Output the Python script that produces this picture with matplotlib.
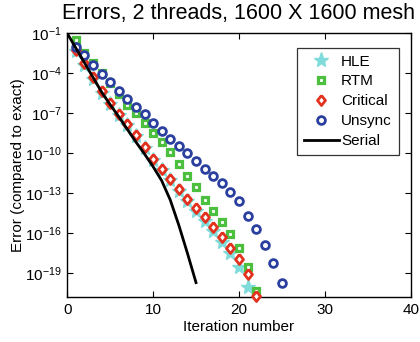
import numpy as np
import matplotlib
matplotlib.use("Agg")
import matplotlib.pyplot as plt

plt.rcParams['font.family'] = ['Liberation Sans', 'DejaVu Sans']
plt.rcParams['mathtext.fontset'] = 'custom'
plt.rcParams['mathtext.rm'] = 'Liberation Sans'
plt.rcParams['mathtext.default'] = 'regular'

# log10 of the error against the exact solution, per iteration
hle_iter = list(range(1, 22))
hle_log_err = [-2.3, -3.35, -4.4, -5.45, -6.3, -7.1, -7.9, -8.7, -9.6, -10.5,
               -11.25, -12.0, -12.8, -13.55, -14.3, -15.05, -15.8, -16.65,
               -17.5, -18.5, -20.0]

rtm_iter = list(range(1, 23))
rtm_log_err = [-1.5, -2.5, -3.2, -4.0, -4.75, -5.55, -6.35, -7.0, -7.75, -8.45,
               -9.18, -9.88, -10.8, -11.7, -12.55, -13.5, -14.33, -15.18,
               -16.08, -17.08, -18.5, -20.3]

critical_iter = list(range(1, 23))
critical_log_err = [-2.25, -3.25, -4.3, -5.35, -6.2, -7.03, -7.83, -8.63, -9.55,
                    -10.4, -11.15, -11.9, -12.7, -13.4, -14.1, -14.8, -15.5,
                    -16.3, -17.1, -17.95, -19.05, -20.7]

unsync_iter = list(range(1, 26))
unsync_log_err = [-2.0, -2.63, -3.38, -4.03, -4.68, -5.3, -5.93, -6.55, -7.08,
                  -7.7, -8.3, -8.9, -9.43, -9.96, -10.56, -11.16, -11.73,
                  -12.25, -12.9, -13.6, -14.7, -15.7, -16.9, -18.2, -19.75]

serial_iter = list(range(0, 16))
serial_log_err = [-1.0, -2.1, -3.2, -4.3, -5.4, -6.35, -7.25, -8.2, -9.15,
                  -10.05, -11.0, -12.05, -13.5, -15.4, -17.5, -19.7]

x_ticks = [0, 10, 20, 30, 40]
y_tick_exps = [-1, -4, -7, -10, -13, -16, -19]

# slightly tall diamond
tall_diamond = [(0, 1), (0.8, 0), (0, -1), (-0.8, 0), (0, 1)]

fig = plt.figure(figsize=(4.2, 3.42), dpi=100)
ax = fig.add_axes([0.160, 0.1307, 0.818, 0.772])

def err(v):
    return 10.0 ** np.asarray(v)

ax.semilogy(hle_iter, err(hle_log_err), linestyle='none', marker='*',
            markersize=11, color='#80dcda', markeredgecolor='#80dcda',
            label='HLE', clip_on=False, zorder=3)
ax.semilogy(rtm_iter, err(rtm_log_err), linestyle='none', marker='s',
            markersize=4.6, markerfacecolor='white', markeredgecolor='#4cbf3f',
            markeredgewidth=2.3, label='RTM', clip_on=False, zorder=4)
ax.semilogy(critical_iter, err(critical_log_err), linestyle='none',
            marker=tall_diamond, markersize=7.2, markerfacecolor='white',
            markeredgecolor='#e2321f', markeredgewidth=2.0, label='Critical',
            clip_on=False, zorder=5)
ax.semilogy(unsync_iter, err(unsync_log_err), linestyle='none', marker='o',
            markersize=5.6, markerfacecolor='white', markeredgecolor='#2b3f9f',
            markeredgewidth=2.0, label='Unsync', clip_on=False, zorder=6)
ax.semilogy(serial_iter, err(serial_log_err), color='black', linewidth=2.0,
            label='Serial', zorder=7)

ax.set_xlim(0, 40)
ax.set_ylim(10.0 ** -20.8, 10.0 ** -1)
ax.set_xticks(x_ticks)
ax.set_yticks([10.0 ** e for e in y_tick_exps])
ax.set_yticklabels([r'$10^{%d}$' % e for e in y_tick_exps])
ax.minorticks_off()
ax.tick_params(direction='in', top=True, right=True, length=4, width=0.8,
               labelsize=11, pad=4)
for s in ax.spines.values():
    s.set_linewidth(1.0)

ax.set_xlabel('Iteration number', fontsize=11, labelpad=2)
ax.set_ylabel('Error (compared to exact)', fontsize=11, labelpad=0)
ax.set_title('Errors, 2 threads, 1600 X 1600 mesh', fontsize=15.5, pad=10)

leg = ax.legend(loc='upper right', bbox_to_anchor=(0.965, 0.945), fontsize=11,
                frameon=True, fancybox=False, edgecolor='black',
                borderpad=0.45, labelspacing=0.38, handlelength=2.3,
                handletextpad=0.15, borderaxespad=0.0)
leg.get_frame().set_linewidth(0.9)

fig.savefig('out.png', dpi=100)
